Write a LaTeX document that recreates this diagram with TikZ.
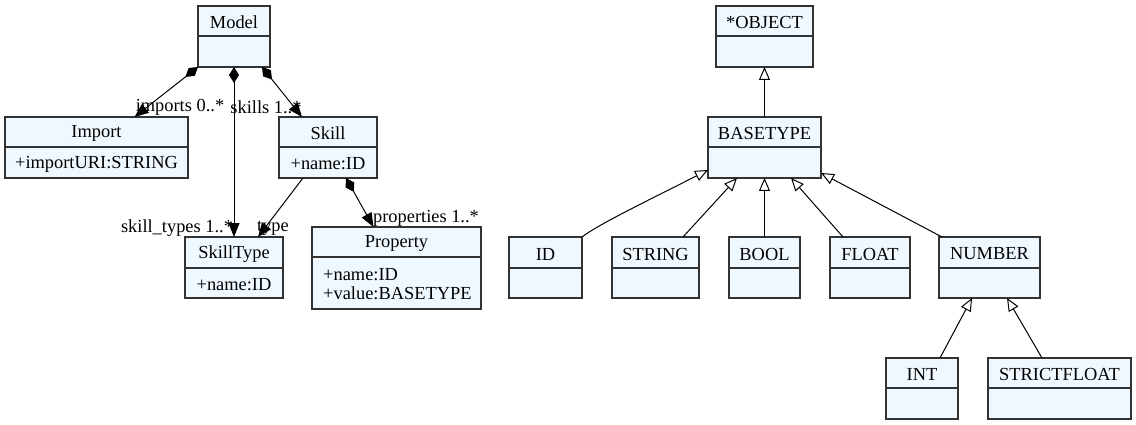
\documentclass[tikz,border=0pt]{standalone}
\usepackage{fontspec}
\setmainfont{Liberation Serif}
\usetikzlibrary{arrows.meta}
\definecolor{clsfill}{HTML}{F0F8FF}
\definecolor{clsdraw}{HTML}{333333}
\tikzset{
  clsbox/.style={draw=clsdraw, line width=1.2pt, fill=clsfill, inner sep=0pt, outer sep=0pt, anchor=north west},
  clsdiv/.style={draw=clsdraw, line width=1.2pt},
  txt/.style={font=\fontsize{18.4}{21}\selectfont, inner sep=0pt, yshift=-1.5pt},
  edge/.style={draw=black, line width=1pt},
  comp/.style={edge, {Diamond[length=16pt,width=10pt,fill=black]}-{Triangle[length=14pt,width=11pt]}},
  assoc/.style={edge, -{Triangle[length=14pt,width=11pt]}},
  inh/.style={edge, -{Triangle[open,length=13pt,width=11pt,fill=white]}},
}
\newcommand\umlcls[7]{%
  \node[clsbox, minimum width={(#4-#2)*1pt}, minimum height={(#5-#3)*1pt}] (#1) at (#2,#3) {};
  \draw[clsdiv] (#1.west |- 0,#6) -- (#1.east |- 0,#6);
  \node[txt] (#1-t) at ({(#2+#4)/2},{(#3+#6)/2}) {#7};
}
\begin{document}
\begin{tikzpicture}[x=1pt,y=-1pt]
\useasboundingbox (0,0) rectangle (1136,425);
% left diagram
\umlcls{Model}{198}{6}{270}{67}{36}{Model}
\umlcls{Import}{5}{117}{188}{178}{147}{Import}
\umlcls{Skill}{279}{117}{377}{178}{147}{Skill}
\umlcls{SkillType}{185}{237}{283}{298}{268}{SkillType}
\umlcls{Property}{312}{227}{481}{309}{257}{Property}
\node[txt] (Import-a) at (96.5,162.5) {+importURI:STRING};
\node[txt] (Skill-a) at (328,162.5) {+name:ID};
\node[txt] (SkillType-a) at (234,283) {+name:ID};
\node[txt, anchor=west] (Property-a1) at (323,273) {+name:ID};
\node[txt, anchor=west] (Property-a2) at (323,292) {+value:BASETYPE};
% right diagram
\umlcls{OBJECT}{716}{6}{813}{67}{36}{*OBJECT}
\umlcls{BASETYPE}{708}{117}{821}{178}{147}{BASETYPE}
\umlcls{ID}{509}{237}{582}{298}{268}{ID}
\umlcls{STRING}{612}{237}{699}{298}{268}{STRING}
\umlcls{BOOL}{729}{237}{800}{298}{268}{BOOL}
\umlcls{FLOAT}{830}{237}{910}{298}{268}{FLOAT}
\umlcls{NUMBER}{939}{237}{1040}{298}{268}{NUMBER}
\umlcls{INT}{886}{358}{958}{419}{388}{INT}
\umlcls{STRICTFLOAT}{988}{358}{1131}{419}{388}{STRICTFLOAT}
% left connectors
\draw[comp] (Model.south west) -- ([xshift=38pt]Import.north);
\draw[comp] (Model.south) -- (SkillType.north);
\draw[comp] ([xshift=-8pt]Model.south east) -- ([xshift=-26pt]Skill.north);
\draw[assoc] ([xshift=-25pt]Skill.south) -- ([xshift=24pt]SkillType.north);
\draw[comp] ([xshift=18pt]Skill.south) -- ([xshift=-23pt]Property.north);
\node[txt] (l-imports) at (180,106) {imports 0..*};
\node[txt] (l-skills) at (266,106) {skills 1..*};
\node[txt] (l-skilltypes) at (177,227) {skill\_types 1..*};
\node[txt] (l-type) at (273,227) {type};
\node[txt] (l-properties) at (426,217) {properties 1..*};
% right connectors
\draw[inh] (BASETYPE.north) -- (OBJECT.south);
\draw[inh] (ID.north east) .. controls +(15,-12) and +(-55,28) .. ([yshift=8pt]BASETYPE.south west);
\draw[inh] ([xshift=27.5pt]STRING.north) -- ([xshift=-27.5pt]BASETYPE.south);
\draw[inh] (BOOL.north) -- (BASETYPE.south);
\draw[inh] ([xshift=-27pt]FLOAT.north) -- ([xshift=26.5pt]BASETYPE.south);
\draw[inh] ([xshift=3pt]NUMBER.north west) -- ([yshift=5pt]BASETYPE.south east);
\draw[inh] ([xshift=18pt]INT.north) -- ([xshift=-17.5pt]NUMBER.south);
\draw[inh] ([xshift=-17.5pt]STRICTFLOAT.north) -- ([xshift=17.5pt]NUMBER.south);
\end{tikzpicture}
\end{document}
